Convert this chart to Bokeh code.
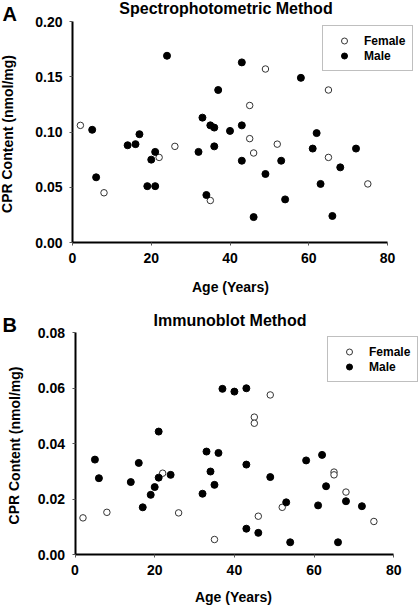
from bokeh.plotting import figure
from bokeh.models import (Range1d, FixedTicker, PrintfTickFormatter, Label,
                          Legend, LegendItem)
from bokeh.layouts import column
from bokeh.embed import file_html
from bokeh.resources import INLINE

# ---------------- data ----------------
# Panel A: Spectrophotometric method
a_female_age = [2, 8, 22, 26, 35, 45, 45, 46, 49, 52, 65, 65, 75]
a_female_cpr = [0.106, 0.045, 0.077, 0.087, 0.038, 0.124, 0.094, 0.081,
                0.157, 0.089, 0.138, 0.077, 0.053]
a_male_age = [5, 6, 14, 16, 17, 19, 20, 21, 21, 24, 32, 33, 34, 35, 36, 36,
              37, 40, 43, 43, 43, 46, 49, 53, 54, 58, 61, 62, 63, 66, 68, 72]
a_male_cpr = [0.102, 0.059, 0.088, 0.089, 0.098, 0.051, 0.075, 0.082, 0.051,
              0.169, 0.082, 0.113, 0.043, 0.106, 0.104, 0.087, 0.138, 0.101,
              0.163, 0.106, 0.074, 0.023, 0.062, 0.074, 0.039, 0.149, 0.085,
              0.099, 0.053, 0.024, 0.068, 0.085]

# Panel B: Immunoblot method
b_female_age = [2, 8, 22, 26, 35, 45, 45, 46, 49, 52, 65, 65, 68, 75]
b_female_cpr = [0.0132, 0.0152, 0.0293, 0.0150, 0.0054, 0.0495, 0.0473,
                0.0138, 0.0575, 0.0170, 0.0297, 0.0287, 0.0225, 0.0119]
b_male_age = [5, 6, 14, 16, 17, 19, 20, 21, 21, 24, 32, 33, 34, 35, 36, 37,
              40, 43, 43, 43, 46, 49, 53, 54, 58, 61, 62, 63, 66, 68, 72]
b_male_cpr = [0.0342, 0.0275, 0.0261, 0.0330, 0.0170, 0.0215, 0.0243, 0.0443,
              0.0277, 0.0287, 0.0219, 0.0371, 0.0299, 0.0251, 0.0366, 0.0597,
              0.0587, 0.0599, 0.0324, 0.0093, 0.0078, 0.0279, 0.0188, 0.0044,
              0.0339, 0.0177, 0.0359, 0.0246, 0.0044, 0.0192, 0.0174]

x_ticks = [0, 20, 40, 60, 80]
a_y_ticks = [0.0, 0.05, 0.10, 0.15, 0.20]
b_y_ticks = [0.0, 0.02, 0.04, 0.06, 0.08]

FONT = "Liberation Sans"
W = 420


def make_panel(height, px_box, xmax, ymax, yticks, fem_age, fem_val,
               male_age, male_val, letter, title, letter_off, title_off,
               ylab_off, xlab_off, legend_loc):
    # px_box: pixel positions (left, right, top, bottom) of the data box
    left, right, top, bottom = px_box
    xs = (right - left) / xmax
    ys = (bottom - top) / ymax
    x_range = Range1d(-left / xs, xmax + (W - right) / xs)
    y_range = Range1d(-(height - bottom) / ys, ymax + top / ys)
    p = figure(width=W, height=height, output_backend="svg",
               toolbar_location=None, x_range=x_range, y_range=y_range,
               min_border=0, min_border_left=0, min_border_right=0,
               min_border_top=0, min_border_bottom=0, title=None)
    p.outline_line_color = None
    p.xgrid.visible = False
    p.ygrid.visible = False
    p.background_fill_color = "white"
    p.border_fill_color = "white"

    for ax in (p.xaxis[0], p.yaxis[0]):
        ax.fixed_location = 0
        ax.axis_line_width = 2
        ax.axis_line_color = "black"
        ax.major_tick_line_color = "#555555"
        ax.major_tick_line_width = 1
        ax.major_tick_out = 3
        ax.major_tick_in = 0
        ax.minor_tick_line_color = None
        ax.major_label_text_font = FONT
        ax.major_label_text_font_style = "bold"
        ax.major_label_text_font_size = "14px"
        ax.major_label_text_color = "black"
    p.xaxis[0].bounds = (0, xmax)
    p.yaxis[0].bounds = (0, ymax)
    p.xaxis[0].ticker = FixedTicker(ticks=x_ticks)
    p.yaxis[0].ticker = FixedTicker(ticks=yticks)
    p.yaxis[0].formatter = PrintfTickFormatter(format="%.2f")
    p.xaxis[0].major_label_standoff = 7
    p.yaxis[0].major_label_standoff = 7

    rf = p.scatter(fem_age, fem_val, size=6.5, marker="circle",
                   fill_color="white", line_color="#333333", line_width=1)
    rm = p.scatter(male_age, male_val, size=7, marker="circle",
                   fill_color="black", line_color="black")

    legend = Legend(items=[LegendItem(label="Female", renderers=[rf]),
                           LegendItem(label="Male", renderers=[rm])],
                    location=legend_loc, orientation="vertical")
    legend.label_text_font = FONT
    legend.label_text_font_style = "bold"
    legend.label_text_font_size = "12px"
    legend.label_text_color = "black"
    legend.glyph_width = 28
    legend.glyph_height = 15
    legend.label_height = 15
    legend.label_standoff = 6
    legend.padding = 7
    legend.spacing = 0
    legend.margin = 0
    legend.border_line_color = "#808080"
    legend.border_line_width = 1
    legend.background_fill_color = "white"
    legend.background_fill_alpha = 1
    p.add_layout(legend)

    common = dict(text_font=FONT, text_font_style="bold", text_color="black",
                  text_baseline="alphabetic")
    p.add_layout(Label(x=0, y=ymax, x_offset=letter_off[0],
                       y_offset=letter_off[1], text=letter,
                       text_font_size="20px", text_align="left", **common))
    p.add_layout(Label(x=xmax / 2, y=ymax, x_offset=title_off[0],
                       y_offset=title_off[1], text=title,
                       text_font_size="16px", text_align="center", **common))
    p.add_layout(Label(x=0, y=ymax / 2, x_offset=ylab_off[0],
                       y_offset=ylab_off[1], text="CPR Content (nmol/mg)",
                       angle=1.5707963, text_font_size="14px",
                       text_align="center", **common))
    p.add_layout(Label(x=xmax / 2, y=0, x_offset=xlab_off[0],
                       y_offset=xlab_off[1], text="Age (Years)",
                       text_font_size="14px", text_align="center", **common))
    return p


pa = make_panel(300, (72, 387, 21, 242), 80, 0.20, a_y_ticks,
                a_female_age, a_female_cpr, a_male_age, a_male_cpr,
                "A", "Spectrophotometric Method",
                letter_off=(-70, 7.5), title_off=(-4, 13.5),
                ylab_off=(-65, -2), xlab_off=(0.5, -44.7),
                legend_loc=(322, 229))
pb = make_panel(307, (74.5, 393.3, 32, 254), 80, 0.08, b_y_ticks,
                b_female_age, b_female_cpr, b_male_age, b_male_cpr,
                "B", "Immunoblot Method",
                letter_off=(-72.5, 8), title_off=(-4.4, 12.5),
                ylab_off=(-60.5, -2), xlab_off=(-1, -42),
                legend_loc=(327, 225))

layout = column(pa, pb, spacing=0)
open("out.html", "w").write(file_html(layout, INLINE))
